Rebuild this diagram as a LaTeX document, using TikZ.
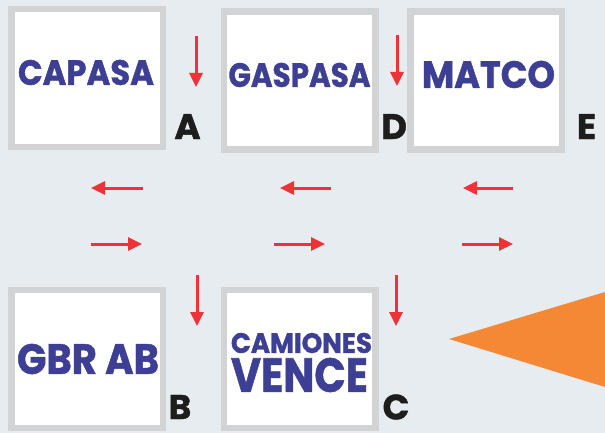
\documentclass[tikz,border=0pt]{standalone}
\usepackage{fontspec}
\usepackage{graphicx}
\newfontfamily\logofont{Poppins}[BoldFeatures={FakeBold=1.2}]
\usetikzlibrary{arrows.meta}
\definecolor{bgcol}{HTML}{E7ECF0}
\definecolor{boxgray}{HTML}{D1D3D5}
\definecolor{logoblue}{HTML}{3C3F94}
\definecolor{arrred}{HTML}{EE3237}
\definecolor{triorange}{HTML}{F48834}
\definecolor{labdark}{HTML}{1D1D1B}
\tikzset{
  logobox/.style={draw=boxgray, line width=6.5pt, fill=white, inner sep=0pt,
    minimum width=151.5pt, minimum height=138pt},
  logotext/.style={inner sep=0pt, text=logoblue, font=\logofont\bfseries},
  letterlab/.style={inner sep=0pt, text=labdark, font=\logofont\bfseries},
  redarrow/.style={draw=arrred, line width=3pt, -{Triangle[length=14pt,width=13pt]}},
}
\begin{document}
\begin{tikzpicture}[x=1pt,y=1pt]
\fill[bgcol] (0,0) rectangle (605,-433);
\useasboundingbox (0,0) rectangle (605,-433);
% boxes
\node[logobox] (capasa) at (87,-78) {};
\node[logobox] (gaspasa) at (299.5,-80.5) {};
\node[logobox] (matco) at (486,-80.5) {};
\node[logobox] (gbrab) at (87,-359) {};
\node[logobox] (vence) at (299.5,-359) {};
% logo texts
\node[logotext] (tcapasa) at (86,-72.5) {\resizebox{136pt}{25pt}{CAPASA}};
\node[logotext] (tgaspasa) at (299.5,-75) {\resizebox{142pt}{24pt}{GASPASA}};
\node[logotext] (tmatco) at (488.5,-74.5) {\resizebox{133pt}{27pt}{MATCO}};
\node[logotext] (tgbrab) at (88,-359) {\resizebox{142pt}{30pt}{GBR AB}};
\node[logotext] (tcamiones) at (301.5,-343) {\resizebox{141pt}{20pt}{CAMIONES}};
\node[logotext] (tvence) at (299.5,-375) {\resizebox{137pt}{34pt}{VENCE}};
% letters
\node[letterlab] (la) at (187.5,-126.5) {\resizebox{!}{25pt}{A}};
\node[letterlab] (ld) at (394,-126.5) {\resizebox{!}{25pt}{D}};
\node[letterlab] (le) at (586.5,-126.5) {\resizebox{!}{25pt}{E}};
\node[letterlab] (lb) at (180,-407) {\resizebox{!}{24pt}{B}};
\node[letterlab] (lc) at (396,-407) {\resizebox{!}{25pt}{C}};
% arrow end points
\coordinate (v1s) at (196,-36); \coordinate (v1e) at (196,-87);
\coordinate (v2s) at (397,-35); \coordinate (v2e) at (397,-86);
\coordinate (v3s) at (197,-275); \coordinate (v3e) at (197,-326);
\coordinate (v4s) at (396,-275); \coordinate (v4e) at (396,-326);
\coordinate (l1s) at (143,-188); \coordinate (l1e) at (91,-188);
\coordinate (l2s) at (331,-188); \coordinate (l2e) at (280,-188);
\coordinate (l3s) at (513,-188); \coordinate (l3e) at (463,-188);
\coordinate (r1s) at (91,-244); \coordinate (r1e) at (142,-244);
\coordinate (r2s) at (274,-244); \coordinate (r2e) at (325,-244);
\coordinate (r3s) at (462,-244); \coordinate (r3e) at (513,-244);
\foreach \a in {v1,v2,v3,v4,l1,l2,l3,r1,r2,r3}{
  \draw[redarrow] (\a s) -- (\a e);
}
% orange triangle
\fill[triorange] (449,-339) -- (605,-292) -- (605,-387) -- cycle;
\end{tikzpicture}
\end{document}
